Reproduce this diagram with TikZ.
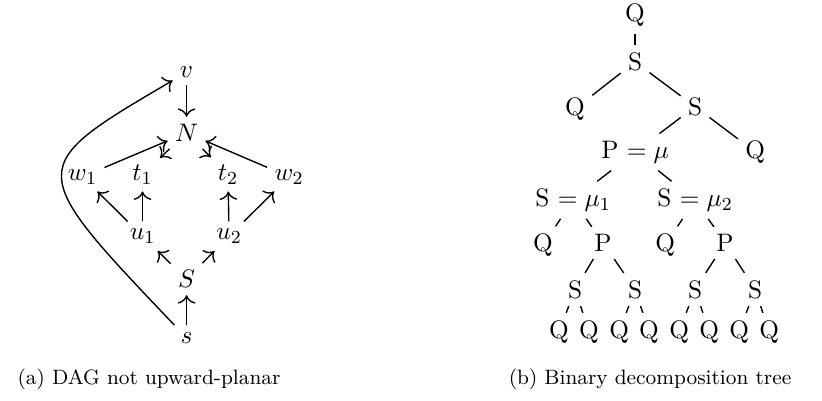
\documentclass[tikz,border=0pt]{standalone}
\usepackage{amsmath}
\usepackage{amssymb}
\usetikzlibrary{arrows.meta, positioning}

\begin{document}
\begin{tikzpicture}[
  vertex/.style={anchor=base, inner sep=3pt, font=\fontsize{10.95}{13.6}\selectfont},
  arc/.style={-{To[scale=1.25]}, line width=0.6pt},
  tnode/.style={anchor=base, inner sep=3pt, font=\fontsize{10.95}{13.6}\selectfont},
  tedge/.style={line width=0.6pt},
  caption/.style={font=\small}
]
\useasboundingbox (0,0) rectangle (12.51,6.10);

% -------------------------------------------------------------------
% (a) DAG
% -------------------------------------------------------------------
\node[vertex] (v)  at (2.839,4.916) {$v$};
\node[vertex] (N)  at (2.839,3.947) {$N$};
\node[vertex] (w1) at (1.256,3.356) {$w_1$};
\node[vertex] (t1) at (2.169,3.356) {$t_1$};
\node[vertex] (t2) at (3.470,3.356) {$t_2$};
\node[vertex] (w2) at (4.399,3.356) {$w_2$};
\node[vertex] (u1) at (2.169,2.451) {$u_1$};
\node[vertex] (u2) at (3.486,2.451) {$u_2$};
\node[vertex] (S)  at (2.839,1.720) {$S$};
\node[vertex] (s)  at (2.839,0.875) {$s$};

\draw[arc] (v) -- (N);
\draw[arc] (w1) -- (N);
\draw[arc] (w2) -- (N);
\draw[arc] (N) -- (t1);
\draw[arc] (N) -- (t2);
\draw[arc] (u1) -- (w1);
\draw[arc] (u1) -- (t1);
\draw[arc] (u2) -- (t2);
\draw[arc] (u2) -- (w2);
\draw[arc] (S) -- (u1);
\draw[arc] (S) -- (u2);
\draw[arc] (s) -- (S);
\draw[arc] (s) .. controls (0.37,3.55) .. (v);

% -------------------------------------------------------------------
% (b) decomposition tree
% -------------------------------------------------------------------
\node[tnode] (q0)  at (9.665,5.773) {Q};
\node[tnode] (s0)  at (9.665,5.027) {S};
\node[tnode] (q1)  at (8.752,4.346) {Q};
\node[tnode] (s1)  at (10.578,4.346) {S};
\node[tnode] (p0)  at (9.665,3.691) {P $=\mu$};
\node[tnode] (q2)  at (11.492,3.691) {Q};
\node[tnode] (sa)  at (8.721,2.957) {S $=\mu_1$};
\node[tnode] (sb)  at (10.578,2.957) {S $=\mu_2$};
\node[tnode] (qa)  at (8.265,2.272) {Q};
\node[tnode] (pa)  at (9.178,2.272) {P};
\node[tnode] (qb)  at (10.122,2.272) {Q};
\node[tnode] (pb)  at (11.035,2.272) {P};
\node[tnode] (sa1) at (8.752,1.563) {S};
\node[tnode] (sa2) at (9.665,1.563) {S};
\node[tnode] (sb1) at (10.578,1.563) {S};
\node[tnode] (sb2) at (11.492,1.563) {S};
\node[tnode] (l1)  at (8.508,0.954) {Q};
\node[tnode] (l2)  at (8.965,0.954) {Q};
\node[tnode] (l3)  at (9.422,0.954) {Q};
\node[tnode] (l4)  at (9.878,0.954) {Q};
\node[tnode] (l5)  at (10.335,0.954) {Q};
\node[tnode] (l6)  at (10.792,0.954) {Q};
\node[tnode] (l7)  at (11.248,0.954) {Q};
\node[tnode] (l8)  at (11.705,0.954) {Q};

\draw[tedge] (q0) -- (s0);
\draw[tedge] (s0) -- (q1);
\draw[tedge] (s0) -- (s1);
\draw[tedge] (s1) -- (p0);
\draw[tedge] (s1) -- (q2);
\draw[tedge] (p0) -- (sa);
\draw[tedge] (p0) -- (sb);
\draw[tedge] (sa) -- (qa);
\draw[tedge] (sa) -- (pa);
\draw[tedge] (sb) -- (qb);
\draw[tedge] (sb) -- (pb);
\draw[tedge] (pa) -- (sa1);
\draw[tedge] (pa) -- (sa2);
\draw[tedge] (pb) -- (sb1);
\draw[tedge] (pb) -- (sb2);
\draw[tedge] (sa1) -- (l1);
\draw[tedge] (sa1) -- (l2);
\draw[tedge] (sa2) -- (l3);
\draw[tedge] (sa2) -- (l4);
\draw[tedge] (sb1) -- (l5);
\draw[tedge] (sb1) -- (l6);
\draw[tedge] (sb2) -- (l7);
\draw[tedge] (sb2) -- (l8);

% captions
\node[caption] (capa) at (2.268,0.320) {(a) DAG not upward-planar};
\node[caption] (capb) at (9.893,0.320) {(b) Binary decomposition tree};

\end{tikzpicture}
\end{document}
